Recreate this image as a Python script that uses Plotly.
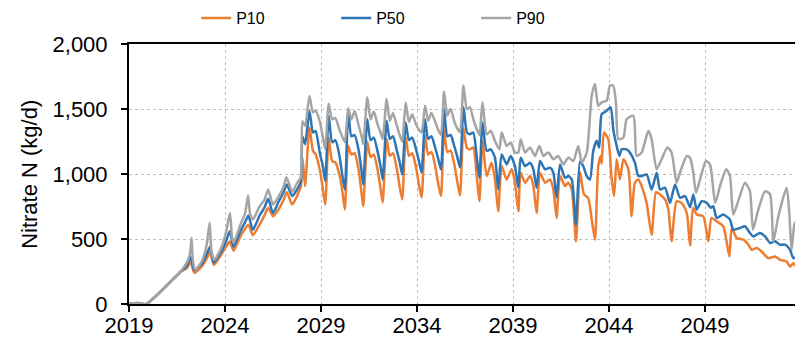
import plotly.graph_objects as go

# (decimal year, kg/d)
P10 = [
	(2019.0, 0), (2019.45, 8), (2019.9, 0), (2021.75, 255), (2022.0, 275), (2022.22, 320), (2022.4, 240),
	(2022.8, 290), (2023.05, 350), (2023.22, 400), (2023.42, 300), (2023.8, 380), (2024.05, 440), (2024.25, 480),
	(2024.45, 410), (2024.8, 520), (2025.05, 580), (2025.22, 610), (2025.45, 530), (2025.8, 610), (2026.05, 680),
	(2026.25, 740), (2026.5, 675), (2026.8, 730), (2027.05, 800), (2027.22, 860), (2027.5, 765), (2027.75, 830),
	(2027.95, 905), (2028.03, 1130), (2028.17, 907), (2028.4, 1360), (2028.58, 1178), (2028.72, 1152), (2028.95, 1023),
	(2029.1, 880), (2029.22, 765), (2029.4, 1281), (2029.58, 1100), (2029.75, 1090), (2029.95, 1000),
	(2030.1, 880), (2030.24, 727), (2030.42, 1216), (2030.58, 1150), (2030.75, 1160), (2030.95, 1040),
	(2031.1, 870), (2031.2, 752), (2031.41, 1250), (2031.58, 1130), (2031.75, 1150), (2031.95, 1030),
	(2032.1, 890), (2032.21, 780), (2032.42, 1270), (2032.58, 1140), (2032.75, 1160), (2032.95, 1040),
	(2033.1, 900), (2033.23, 804), (2033.41, 1280), (2033.58, 1140), (2033.75, 1160), (2033.95, 1050),
	(2034.1, 920), (2034.24, 820), (2034.42, 1300), (2034.58, 1150), (2034.75, 1170), (2034.95, 1060),
	(2035.1, 930), (2035.25, 830), (2035.41, 1340), (2035.58, 1170), (2035.75, 1180), (2035.95, 1070),
	(2036.1, 940), (2036.24, 835), (2036.42, 1350), (2036.6, 1200), (2036.76, 1190), (2036.93, 1204),
	(2037.1, 1000), (2037.25, 791), (2037.41, 1255), (2037.63, 984), (2037.88, 1087), (2038.06, 958),
	(2038.23, 713), (2038.41, 1061), (2038.67, 958), (2038.93, 1036), (2039.1, 933), (2039.28, 713),
	(2039.4, 1010), (2039.63, 933), (2039.89, 984), (2040.06, 907), (2040.23, 701), (2040.41, 1010),
	(2040.67, 933), (2040.93, 958), (2041.1, 881), (2041.27, 662), (2041.45, 984), (2041.71, 907),
	(2041.88, 933), (2042.06, 881), (2042.28, 482), (2042.49, 1015), (2042.7, 843), (2042.92, 815),
	(2043.1, 649), (2043.27, 495), (2043.44, 1061), (2043.57, 1139), (2043.62, 1080), (2043.74, 1319),
	(2043.96, 1268), (2044.14, 958), (2044.26, 830), (2044.4, 1113), (2044.57, 958), (2044.75, 1113),
	(2045.01, 1036), (2045.18, 675), (2045.35, 933), (2045.53, 958), (2045.7, 907), (2045.96, 778),
	(2046.22, 533), (2046.45, 860), (2046.66, 843), (2046.92, 804), (2047.09, 727), (2047.26, 482),
	(2047.52, 790), (2047.78, 778), (2048.05, 701), (2048.22, 450), (2048.38, 740), (2048.57, 688),
	(2048.91, 675), (2049.17, 482), (2049.34, 662), (2049.61, 636), (2049.95, 598), (2050.27, 366),
	(2050.39, 585), (2050.65, 508), (2051.0, 495), (2051.26, 456), (2051.43, 417), (2051.69, 430),
	(2051.95, 404), (2052.3, 353), (2052.65, 366), (2052.91, 340), (2053.25, 327), (2053.43, 288),
	(2053.6, 314), (2053.77, 288), (2054.08, 294),
]

P50 = [
	(2019.0, 0), (2019.45, 8), (2019.9, 0), (2021.75, 258), (2022.0, 290), (2022.22, 360), (2022.4, 260),
	(2022.8, 310), (2023.05, 385), (2023.22, 440), (2023.42, 320), (2023.8, 400), (2024.05, 480), (2024.25, 560),
	(2024.45, 440), (2024.8, 560), (2025.05, 630), (2025.22, 680), (2025.45, 570), (2025.8, 680), (2026.05, 740),
	(2026.25, 810), (2026.5, 700), (2026.8, 790), (2027.05, 860), (2027.22, 920), (2027.5, 830), (2027.75, 880),
	(2027.95, 940), (2028.03, 1290), (2028.17, 1229), (2028.4, 1485), (2028.58, 1320), (2028.72, 1330), (2028.95, 1152),
	(2029.1, 1060), (2029.22, 946), (2029.4, 1448), (2029.58, 1245), (2029.75, 1260), (2029.95, 1150),
	(2030.1, 1000), (2030.24, 881), (2030.42, 1490), (2030.58, 1290), (2030.75, 1300), (2030.95, 1190),
	(2031.1, 1040), (2031.2, 920), (2031.41, 1422), (2031.58, 1260), (2031.75, 1280), (2031.95, 1170),
	(2032.1, 1060), (2032.21, 958), (2032.42, 1409), (2032.58, 1270), (2032.75, 1290), (2032.95, 1180),
	(2033.1, 1090), (2033.23, 997), (2033.41, 1396), (2033.58, 1260), (2033.75, 1280), (2033.95, 1190),
	(2034.1, 1100), (2034.24, 1012), (2034.42, 1422), (2034.58, 1270), (2034.75, 1290), (2034.95, 1200),
	(2035.1, 1120), (2035.25, 1036), (2035.41, 1500), (2035.58, 1290), (2035.75, 1300), (2035.95, 1210),
	(2036.1, 1130), (2036.24, 1051), (2036.42, 1513), (2036.6, 1320), (2036.76, 1306), (2036.93, 1319),
	(2037.1, 1150), (2037.25, 971), (2037.41, 1396), (2037.63, 1178), (2037.84, 1190), (2038.06, 1126),
	(2038.23, 881), (2038.41, 1151), (2038.67, 1074), (2038.88, 1139), (2039.1, 1061), (2039.28, 894),
	(2039.4, 1126), (2039.63, 1061), (2039.89, 1087), (2040.06, 1036), (2040.23, 894), (2040.41, 1100),
	(2040.67, 1036), (2040.93, 1049), (2041.1, 1010), (2041.27, 817), (2041.45, 1074), (2041.71, 971),
	(2041.88, 984), (2042.06, 958), (2042.28, 611), (2042.49, 1095), (2042.66, 1061), (2042.84, 984),
	(2043.01, 958), (2043.18, 1178), (2043.36, 1255), (2043.49, 1204), (2043.62, 1461), (2043.88, 1487),
	(2044.09, 1513), (2044.22, 1345), (2044.4, 1216), (2044.54, 1139), (2044.66, 1190), (2044.92, 1190),
	(2045.09, 1165), (2045.35, 1087), (2045.53, 984), (2045.7, 984), (2045.96, 997), (2046.22, 880),
	(2046.48, 1010), (2046.66, 881), (2046.92, 894), (2047.18, 778), (2047.44, 920), (2047.7, 817),
	(2047.96, 830), (2048.22, 745), (2048.39, 843), (2048.57, 727), (2048.83, 791), (2049.09, 778),
	(2049.3, 740), (2049.43, 752), (2049.61, 662), (2049.95, 688), (2050.3, 649), (2050.47, 572),
	(2050.82, 585), (2051.08, 598), (2051.34, 546), (2051.52, 520), (2051.86, 546), (2052.13, 520),
	(2052.39, 469), (2052.65, 482), (2052.9, 456), (2053.17, 456), (2053.43, 417), (2053.6, 353),
	(2053.86, 379), (2054.08, 430),
]

P90 = [
	(2019.0, 0), (2019.45, 8), (2019.9, 0), (2021.75, 262), (2022.05, 330), (2022.18, 390), (2022.26, 510),
	(2022.33, 330), (2022.45, 265), (2022.8, 330), (2023.05, 460), (2023.2, 625), (2023.3, 400), (2023.45, 340),
	(2023.8, 430), (2024.05, 550), (2024.26, 700), (2024.36, 520), (2024.45, 470), (2024.8, 610), (2025.05, 700),
	(2025.2, 835), (2025.3, 700), (2025.45, 650), (2025.8, 750), (2026.05, 800), (2026.25, 880), (2026.5, 765),
	(2026.8, 830), (2027.05, 900), (2027.2, 975), (2027.5, 865), (2027.75, 930), (2027.95, 975), (2028.03, 1405),
	(2028.17, 1370), (2028.4, 1600), (2028.58, 1475), (2028.72, 1487), (2028.95, 1396),
	(2029.1, 1280), (2029.22, 1190), (2029.4, 1540), (2029.58, 1422), (2029.75, 1430), (2029.95, 1345),
	(2030.1, 1290), (2030.24, 1245), (2030.42, 1505), (2030.58, 1420), (2030.75, 1485), (2030.95, 1380),
	(2031.1, 1300), (2031.2, 1230), (2031.41, 1590), (2031.58, 1420), (2031.75, 1480), (2031.95, 1380),
	(2032.1, 1320), (2032.21, 1268), (2032.42, 1577), (2032.58, 1410), (2032.75, 1470), (2032.95, 1370),
	(2033.1, 1300), (2033.23, 1250), (2033.41, 1550), (2033.58, 1400), (2033.75, 1460), (2033.95, 1380),
	(2034.1, 1340), (2034.24, 1320), (2034.42, 1525), (2034.58, 1410), (2034.75, 1470), (2034.95, 1400),
	(2035.1, 1340), (2035.25, 1300), (2035.41, 1634), (2035.58, 1450), (2035.75, 1500), (2035.95, 1400),
	(2036.1, 1350), (2036.24, 1320), (2036.42, 1680), (2036.6, 1500), (2036.76, 1513), (2036.93, 1422),
	(2037.1, 1350), (2037.25, 1300), (2037.41, 1551), (2037.63, 1306), (2037.84, 1332), (2038.06, 1255),
	(2038.29, 1190), (2038.41, 1319), (2038.67, 1216), (2038.88, 1242), (2039.1, 1165), (2039.28, 1165),
	(2039.4, 1268), (2039.63, 1165), (2039.89, 1204), (2040.15, 1139), (2040.37, 1216), (2040.58, 1139),
	(2040.84, 1165), (2041.1, 1113), (2041.36, 1139), (2041.62, 1074), (2041.88, 1126), (2042.14, 1100),
	(2042.4, 1216), (2042.58, 1087), (2042.84, 1165), (2043.1, 1602), (2043.27, 1693), (2043.44, 1525),
	(2043.62, 1551), (2043.88, 1564), (2044.05, 1680), (2044.22, 1680), (2044.36, 1551), (2044.49, 1268),
	(2044.75, 1281), (2044.92, 1422), (2045.27, 1448), (2045.44, 1139), (2045.7, 1165), (2046.05, 1332),
	(2046.22, 1268), (2046.48, 1036), (2046.74, 1113), (2047.04, 1204), (2047.26, 1165), (2047.52, 933),
	(2047.7, 1010), (2048.05, 1139), (2048.22, 1126), (2048.39, 1010), (2048.53, 855), (2048.74, 958),
	(2049.05, 1100), (2049.26, 1074), (2049.53, 778), (2049.78, 907), (2050.1, 1036), (2050.3, 984),
	(2050.47, 688), (2050.73, 791), (2051.08, 933), (2051.34, 868), (2051.5, 572), (2051.78, 727),
	(2052.13, 868), (2052.39, 843), (2052.56, 482), (2052.82, 675), (2053.25, 894), (2053.39, 701),
	(2053.51, 417), (2053.68, 624), (2053.94, 662), (2054.08, 752),
]

SERIES = [('P10', P10, '#ED7D31'), ('P50', P50, '#2E75B6'), ('P90', P90, '#A5A5A5')]
FONT = 'Liberation Sans, Arial, sans-serif'

fig = go.Figure()
for name, points, colour in SERIES:
	years, values = zip(*points)
	fig.add_trace(go.Scatter(
		x = years,
		y = values,
		name = name,
		mode = 'lines',
		line = dict(color=colour, width=2.5, shape='spline', smoothing=0.6),
	))

axis_style = dict(
	showgrid = True,
	gridcolor = '#BFBFBF',
	griddash = 'dot',
	gridwidth = 1,
	showline = True,
	linecolor = 'black',
	linewidth = 2,
	mirror = True,
	ticks = 'outside',
	ticklen = 6,
	tickcolor = 'black',
	tickwidth = 1.5,
	tickfont = dict(family=FONT, size=22, color='black'),
	zeroline = False,
	automargin = False,
)

fig.update_xaxes(range=[2019, 2054], tick0=2019, dtick=5, tickformat='d', ticklabelstandoff=-5, **axis_style)
fig.update_yaxes(range=[0, 2000], tick0=0, dtick=500, tickformat=',d', ticklabelstandoff=9, **axis_style)

fig.add_annotation(
	text = 'Nitrate N (kg/d)',
	xref = 'paper', yref = 'paper',
	x = -0.149, y = 0.5,
	xanchor = 'center', yanchor = 'middle',
	textangle = -90,
	showarrow = False,
	font = dict(family=FONT, size=22, color='black'),
)

# the page body keeps an 8px margin, so the figure is 8px smaller and the margins shift by 8px
fig.update_layout(
	width = 795,
	height = 338,
	margin = dict(l=121, r=2, t=36, b=42, autoexpand=False),
	plot_bgcolor = 'white',
	paper_bgcolor = 'white',
	font = dict(family=FONT, color='black'),
	legend = dict(
		orientation = 'h',
		x = 0.10, xanchor = 'left',
		y = 1.10, yanchor = 'middle',
		font = dict(family=FONT, size=16, color='black'),
		entrywidth = 95,
		entrywidthmode = 'pixels',
		bgcolor = 'rgba(0,0,0,0)',
	),
)

fig.write_html('out.html')
